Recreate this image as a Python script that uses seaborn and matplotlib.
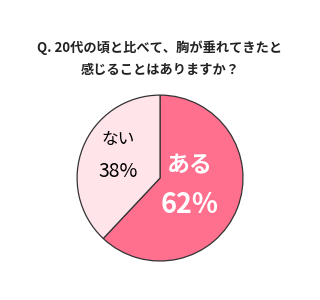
import matplotlib
matplotlib.use("Agg")
import matplotlib.pyplot as plt
import seaborn as sns

title = "Q. 20代の頃と比べて、胸が垂れてきたと\n感じることはありますか？"
labels = ["ある", "ない"]
values = [62, 38]
colors = ["#FF6F8E", "#FFE4EA"]
text_colors = ["white", "black"]

sns.set_theme(style="white")
plt.rcParams['font.family'] = ['Noto Sans CJK JP', 'DejaVu Sans']

fig = plt.figure(figsize=(3.2, 3.0), dpi=100)
fig.patch.set_facecolor("white")
ax = fig.add_axes([0.2406, 0.13, 0.519, 0.553])
wedges, _ = ax.pie(values, colors=colors, startangle=90, counterclock=False,
                   wedgeprops=dict(edgecolor="#333333", linewidth=0.9))
ax.set_xlim(-1, 1)
ax.set_ylim(-1, 1)
ax.set_aspect("equal")
ax.axis("off")

# label positions
pos = [((0.36, 0.15), (0.36, -0.33)), ((-0.51, 0.46), (-0.51, 0.08))]
sizes = [(16.5, 19.5), (12, 14)]
weights = ["bold", "normal"]
for lab, v, (p1, p2), (s1, s2), w, c in zip(labels, values, pos, sizes, weights, text_colors):
    ax.text(p1[0], p1[1], lab, ha="center", va="center", fontsize=s1, fontweight=w, color=c)
    ax.text(p2[0], p2[1], f"{v}%", ha="center", va="center", fontsize=s2, fontweight=w, color=c)

fig.text(0.5, 0.805, title, ha="center", va="center", fontsize=9.5, fontweight="bold",
         color="#222222", linespacing=1.75)

fig.savefig("out.png", dpi=100, facecolor="white")
